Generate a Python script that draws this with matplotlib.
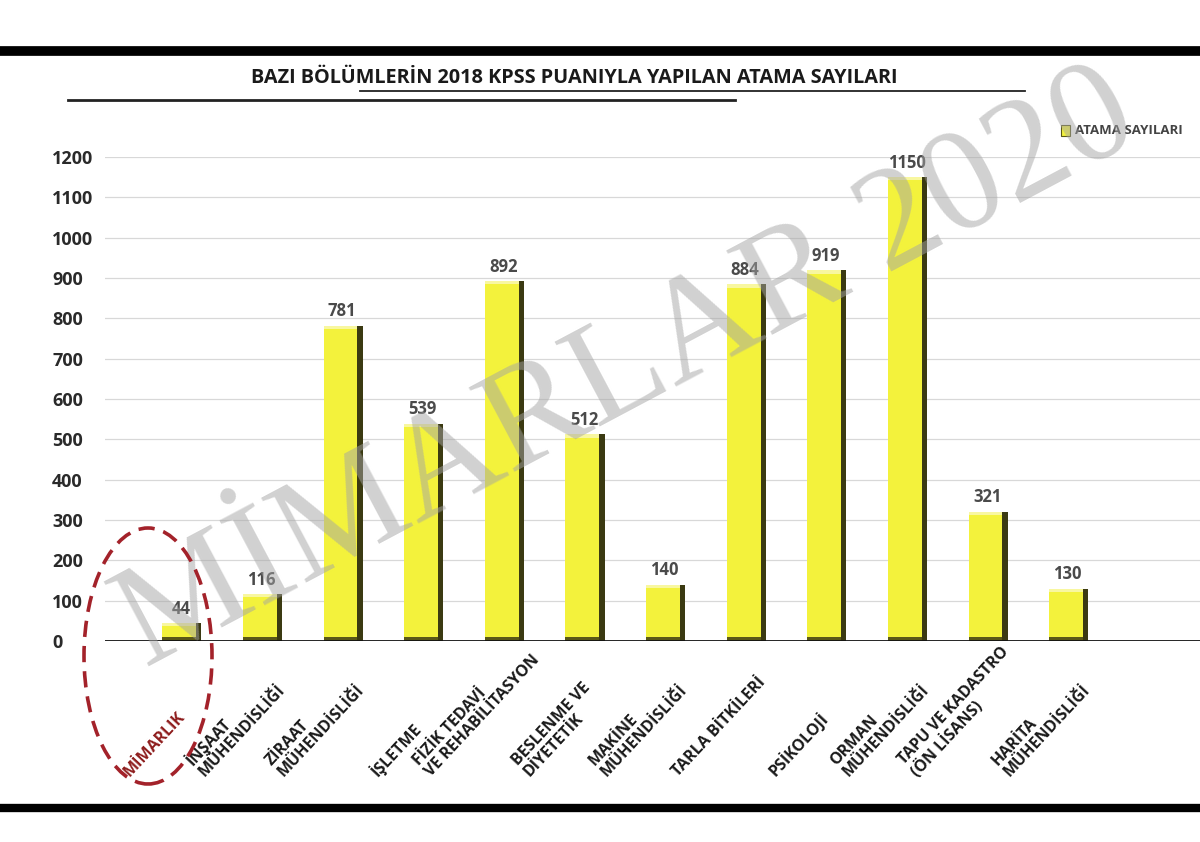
import matplotlib
matplotlib.use("Agg")
import matplotlib.pyplot as plt
from matplotlib.patches import Ellipse, Rectangle
from matplotlib.lines import Line2D
import numpy as np

categories = [
    "MİMARLIK",
    "İNŞAAT\nMÜHENDİSLİĞİ",
    "ZİRAAT\nMÜHENDİSLİĞİ",
    "İŞLETME",
    "FİZİK TEDAVİ\nVE REHABİLİTASYON",
    "BESLENME VE\nDİYETETİK",
    "MAKİNE\nMÜHENDİSLİĞİ",
    "TARLA BİTKİLERİ",
    "PSİKOLOJİ",
    "ORMAN\nMÜHENDİSLİĞİ",
    "TAPU VE KADASTRO\n(ÖN LİSANS)",
    "HARİTA\nMÜHENDİSLİĞİ",
]
values = [44, 116, 781, 539, 892, 512, 140, 884, 919, 1150, 321, 130]
yticks = [0, 100, 200, 300, 400, 500, 600, 700, 800, 900, 1000, 1100, 1200]
title = "BAZI BÖLÜMLERİN 2018 KPSS PUANIYLA YAPILAN ATAMA SAYILARI"
legend_label = "ATAMA SAYILARI"
watermark = "MİMARLAR 2020"

plt.rcParams['font.family'] = ['Open Sans', 'DejaVu Sans']

W, H = 1200, 842
fig = plt.figure(figsize=(12, 8.42), dpi=100)
fig.patch.set_facecolor("white")

y0_px, y1200_px = 641, 157
ax_bottom = 1 - y0_px / H
ax_top = 1 - y1200_px / H
ax = fig.add_axes([105 / W, ax_bottom, 1 - 105 / W, ax_top - ax_bottom])
ax.set_facecolor("white")

x = np.arange(len(values))
ax.set_xlim(-0.94, 12.64)
ax.set_ylim(0, 1200)

ax.set_yticks(yticks)
ax.set_yticklabels([str(t) for t in yticks], fontsize=13, fontweight='bold', color='#2a2a2a')
for lab in ax.get_yticklabels():
    lab.set_horizontalalignment('left')
ax.tick_params(axis='y', length=0, pad=53 * 72 / 100)
ax.grid(axis='y', color='#d8d8d8', linewidth=0.9)
ax.set_axisbelow(True)
for s in ax.spines.values():
    s.set_visible(False)
ax.axhline(0, color='#111111', linewidth=2.0, zorder=5)

# bars: front face, right dark side, top highlight, dark base
front_w = 0.42
side_w = 0.065
ax.bar(x - 0.02, values, width=front_w, color='#F3F23C', edgecolor='none', zorder=3)
ax.bar(x - 0.02 + front_w / 2 + side_w / 2, values, width=side_w, color='#3b3a12', edgecolor='none', zorder=3)
ax.bar(x - 0.02, [8] * len(values), bottom=np.array(values) - 8, width=front_w,
       color='#f8f7a0', edgecolor='none', zorder=4)
ax.bar(x - 0.02, [10] * len(values), width=front_w, color='#5a5818', edgecolor='none', zorder=4)

for xi, v in zip(x, values):
    ax.text(xi, v + 14, str(v), ha='center', va='bottom', fontsize=12, fontweight='bold', color='#4a4a4a', zorder=6)

ax.set_xticks(x)
ax.set_xticklabels([])
ax.tick_params(axis='x', length=0)

# x labels rotated (rotated box centred left of each bar, bottoms aligned)
for xi, cat in zip(x, categories):
    col = '#8e1d1d' if cat == "MİMARLIK" else '#1a1a1a'
    ax.text(xi - 0.33, -345, cat, rotation=47, ha='center', va='bottom',
            multialignment='left', fontsize=11.5, fontweight='bold', color=col,
            linespacing=1.05, clip_on=False)

# borders
fig.add_artist(Line2D([0, 1], [1 - 51 / H, 1 - 51 / H], color='black', linewidth=7, transform=fig.transFigure))
fig.add_artist(Line2D([0, 1], [1 - 808 / H, 1 - 808 / H], color='black', linewidth=6, transform=fig.transFigure))

# title and underlines
fig.text(574 / W, 1 - 78 / H, title, ha='center', va='center', fontsize=14.3, fontweight='bold', color='#1a1a1a')
fig.add_artist(Line2D([360 / W, 1025 / W], [1 - 91 / H, 1 - 91 / H], color='#222222', linewidth=1.3, transform=fig.transFigure))
fig.add_artist(Line2D([68 / W, 735 / W], [1 - 100 / H, 1 - 100 / H], color='#222222', linewidth=2.0, transform=fig.transFigure))

# legend
fig.add_artist(Rectangle((1061 / W, 1 - 136 / H), 9 / W, 11 / H, facecolor='#F3F23C', edgecolor='#5a5818',
                         linewidth=0.8, transform=fig.transFigure))
fig.text(1075 / W, 1 - 130 / H, legend_label, ha='left', va='center', fontsize=9.5, fontweight='bold', color='#444444')

# watermark
fig.text(628 / W, 1 - 372 / H, watermark, ha='center', va='center', rotation=28, rotation_mode='anchor',
         fontsize=105, family='Liberation Serif', color='#a4a4a4', alpha=0.5, zorder=10)

# red dashed ellipse
fig.add_artist(Ellipse((148 / W, 1 - 656 / H), 128 / W, 256 / H, fill=False, edgecolor='#a3222a',
                       linewidth=2.6, linestyle=(0, (4.5, 2.5)), transform=fig.transFigure, zorder=11))

fig.savefig("out.png", dpi=100, facecolor='white')
